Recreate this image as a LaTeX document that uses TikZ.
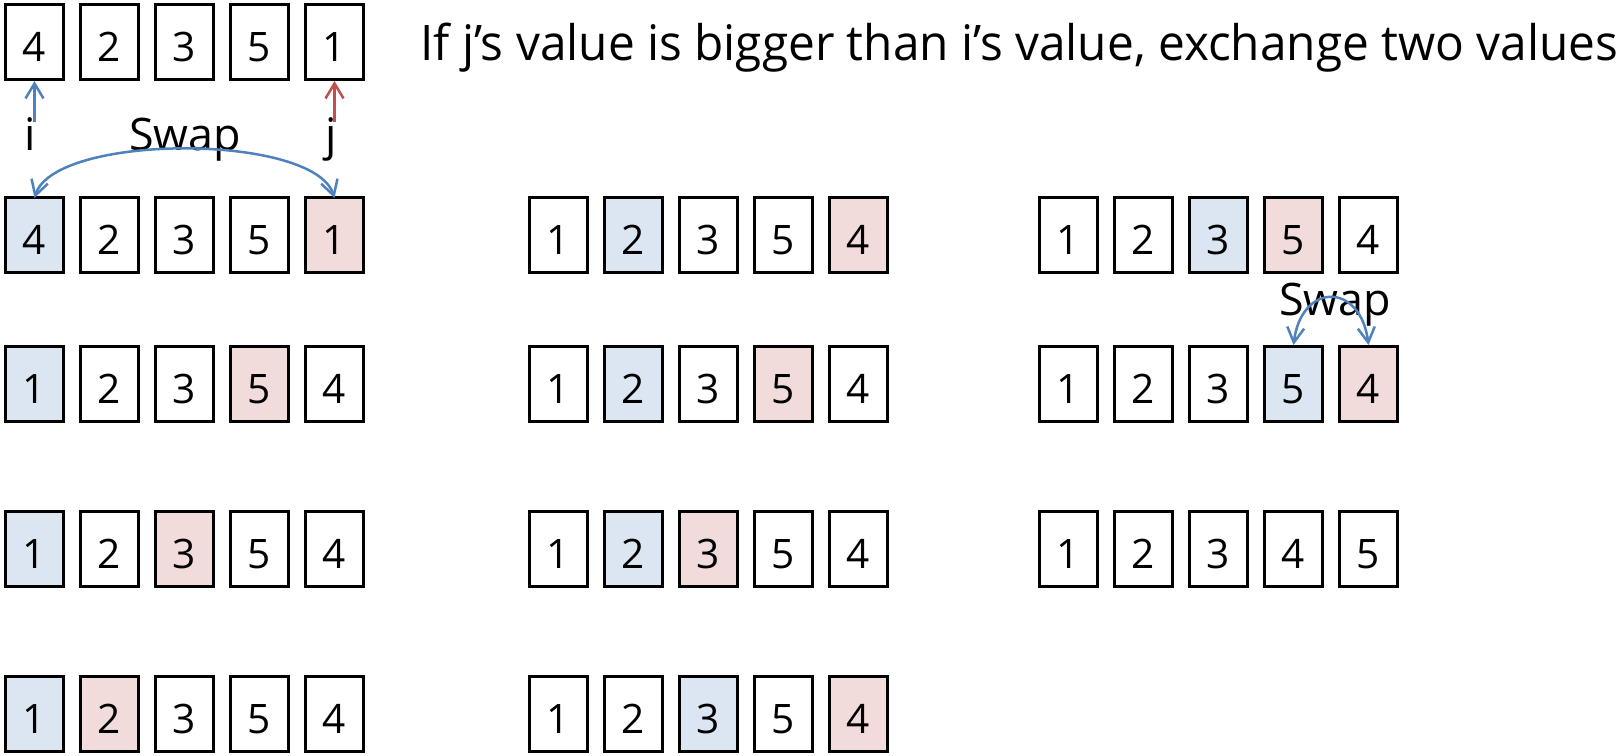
\documentclass[tikz,border=0pt]{standalone}
\usepackage{fontspec}
\setmainfont{Open Sans}
\usetikzlibrary{arrows.meta}
\definecolor{cellblue}{HTML}{DCE6F2}
\definecolor{cellpink}{HTML}{F2DCDB}
\definecolor{arrblue}{HTML}{4F81BD}
\definecolor{arrred}{HTML}{C0504D}
\tikzset{
  cell/.style={draw=black, line width=3pt, minimum width=58pt, minimum height=75pt,
    inner sep=0pt, text height=38pt, text depth=0pt, font=\fontsize{40.6}{44}\selectfont},
  wh/.style={fill=white},
  bl/.style={fill=cellblue},
  pk/.style={fill=cellpink},
  lbl/.style={inner sep=0pt, anchor=base, font=\fontsize{44.8}{50}\selectfont},
  barb/.style={line width=2.5pt, -{Straight Barb[length=15pt,width=18pt]}},
  dbarb/.style={line width=2.5pt, {Straight Barb[length=15pt,width=17pt]}-{Straight Barb[length=15pt,width=17pt]}},
}
\newcommand\cellrow[4]{%
  \foreach \d/\f [count=\k] in {#4} {
    \node[cell,\f] (#1-\k) at ({#2+30.5+75*(\k-1)},{#3+39}) {\d};
  }%
}
\begin{document}
\begin{tikzpicture}[x=1pt,y=-1pt]
\useasboundingbox (0,0) rectangle (1622,755);
% row 1
\cellrow{a}{4}{3}{4/wh,2/wh,3/wh,5/wh,1/wh}
\node[inner sep=0pt, anchor=base west, font=\fontsize{49}{55}\selectfont] (title) at (420,60)
  {\resizebox{1198pt}{\height}{If j’s value is bigger than i’s value, exchange two values}};
% row 2
\cellrow{b}{4}{196}{4/bl,2/wh,3/wh,5/wh,1/pk}
\cellrow{c}{528}{196}{1/wh,2/bl,3/wh,5/wh,4/pk}
\cellrow{d}{1038}{196}{1/wh,2/wh,3/bl,5/pk,4/wh}
% row 3
\cellrow{e}{4}{345}{1/bl,2/wh,3/wh,5/pk,4/wh}
\cellrow{f}{528}{345}{1/wh,2/bl,3/wh,5/pk,4/wh}
\cellrow{g}{1038}{345}{1/wh,2/wh,3/wh,5/bl,4/pk}
% row 4
\cellrow{h}{4}{510}{1/bl,2/wh,3/pk,5/wh,4/wh}
\cellrow{k}{528}{510}{1/wh,2/bl,3/pk,5/wh,4/wh}
\cellrow{m}{1038}{510}{1/wh,2/wh,3/wh,4/wh,5/wh}
% row 5
\cellrow{n}{4}{675}{1/bl,2/pk,3/wh,5/wh,4/wh}
\cellrow{p}{528}{675}{1/wh,2/wh,3/bl,5/wh,4/pk}
% labels
\node[lbl] (ilbl) at (30,150) {i};
\node[lbl] (jlbl) at (331,150) {j};
\node[lbl] (swap1) at (185,150) {Swap};
\node[lbl] (swap2) at (1335,315) {Swap};
% pointer arrows
\coordinate (ifoot) at (34.5,122);
\coordinate (jfoot) at (334.5,122);
\draw[barb, arrblue] (ifoot) -- (a-1.south);
\draw[barb, arrred] (jfoot) -- (a-5.south);
% swap arcs
\draw[dbarb, arrblue] ([yshift=-2pt]b-1.north) .. controls +(20,-65) and +(-20,-65) .. ([yshift=-2pt]b-5.north);
\draw[dbarb, arrblue] (g-4.north) .. controls +(8,-63) and +(-8,-63) .. (g-5.north);
\end{tikzpicture}
\end{document}
